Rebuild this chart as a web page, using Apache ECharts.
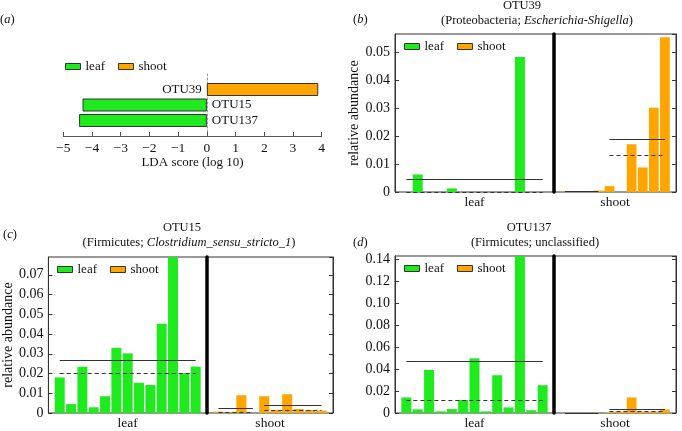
<!DOCTYPE html>
<html lang="en">
<head>
<meta charset="UTF-8">
<title>OTU LDA</title>
<script src="https://cdn.jsdelivr.net/npm/echarts@6/dist/echarts.min.js"></script>
<style>
    html, body { margin: 0; padding: 0; background: #fff; }
    #main { width: 682px; height: 431px; }
</style>
</head>
<body>
<div id="main"></div>
<script type="text/javascript">
    // (a) LDA scores
    var ldaNames = ['OTU137', 'OTU15', 'OTU39'];
    var ldaScores = [-4.45, -4.33, 3.88];
    var ldaGroups = ['leaf', 'leaf', 'shoot'];

    // samples
    var leafSamples = ['L1', 'L2', 'L3', 'L4', 'L5', 'L6', 'L7', 'L8', 'L9', 'L10', 'L11', 'L12', 'L13'];
    var shootSamples = ['S1', 'S2', 'S3', 'S4', 'S5', 'S6', 'S7', 'S8', 'S9', 'S10'];
    // shoot samples fall in two sub-groups: S1-S4 and S5-S10
    var shootGroups = [[0, 3], [4, 9]];

    // (b) OTU39
    var otu39Leaf = [0, 0.0063, 0, 0, 0.0013, 0, 0, 0, 0, 0, 0.0484, 0, 0];
    var otu39Shoot = [0.0001, 0.0001, 0.0001, 0.0005, 0.0021, 0, 0.0171, 0.0088, 0.0302, 0.0554];
    var otu39LeafMean = 0.0044, otu39LeafMedian = 0;
    var otu39ShootMean = [0.0003, 0.019], otu39ShootMedian = [0.0001, 0.013];

    // (c) OTU15
    var otu15Leaf = [0.018, 0.0045, 0.0234, 0.0029, 0.0085, 0.033, 0.0302, 0.0153, 0.0142, 0.0452, 0.107, 0.0202, 0.0235];
    var otu15Shoot = [0.0007, 0.0003, 0.009, 0, 0.0085, 0.0015, 0.0095, 0.002, 0.0015, 0.0012];
    var otu15LeafMean = 0.0266, otu15LeafMedian = 0.0201;
    var otu15ShootMean = [0.0025, 0.004], otu15ShootMedian = [0.0005, 0.0015];

    // (d) OTU137
    var otu137Leaf = [0.0142, 0.0033, 0.0392, 0.0015, 0.0036, 0.0118, 0.0498, 0.0015, 0.0344, 0.0051, 0.43, 0.0025, 0.0253];
    var otu137Shoot = [0, 0, 0, 0, 0.0008, 0.0012, 0.0142, 0.0012, 0.0013, 0.0032];
    var otu137LeafMean = 0.0475, otu137LeafMedian = 0.0115;
    var otu137ShootMean = [0, 0.0038], otu137ShootMedian = [0, 0.0012];

    var FONT = '"Liberation Serif", "DejaVu Serif", serif';
    var leafColor = '#1eea1e';
    var shootColor = '#ffa500';
    var ink = '#111';

    var option = {
        animation: false,
        backgroundColor: '#fff',
        textStyle: { fontFamily: FONT, color: ink },
        grid: [], xAxis: [], yAxis: [], series: [], legend: [], graphic: []
    };

    function pad(arr) { return [''].concat(arr, ['']); }
    function padv(arr) { return [null].concat(arr, [null]); }

    function addLegend(left, top) {
        option.legend.push({
            left: left, top: top, padding: 0,
            icon: 'rect', itemWidth: 15, itemHeight: 6, itemGap: 13,
            selectedMode: false,
            itemStyle: { borderColor: '#333', borderWidth: 1 },
            textStyle: { fontFamily: FONT, fontSize: 13, color: ink },
            data: ['leaf', 'shoot']
        });
    }

    function addText(x, y, text, align) {
        option.graphic.push({
            type: 'text', x: x, y: y, silent: true,
            style: {
                text: text, fontFamily: FONT, fontSize: 12.5, fill: ink,
                align: align, textAlign: align, verticalAlign: 'middle', textVerticalAlign: 'middle',
                rich: { i: { fontStyle: 'italic', fontFamily: FONT, fontSize: 12.5, fill: ink } }
            }
        });
    }

    // solid = mean, dashed = median, drawn from first to last sample of a group
    function meanLines(cats, groups, means, medians) {
        var data = [];
        groups.forEach(function (g, k) {
            data.push([{ coord: [cats[g[0]], means[k]], lineStyle: { type: 'solid' } },
                       { coord: [cats[g[1]], means[k]] }]);
            data.push([{ coord: [cats[g[0]], medians[k]], lineStyle: { type: [4, 3] } },
                       { coord: [cats[g[1]], medians[k]] }]);
        });
        return {
            symbol: 'none', silent: true, animation: false,
            label: { show: false },
            lineStyle: { color: '#333', width: 1 },
            emphasis: { disabled: true },
            data: data
        };
    }

    function tickFmt(v) { return v === 0 ? '0' : v.toFixed(2); }

    // ---- panel (a) ----
    (function () {
        var gi = option.grid.length;
        option.grid.push({ left: 63.3, top: 74, width: 258.4, height: 62 });
        var xi = option.xAxis.length;
        option.xAxis.push({
            gridIndex: gi, type: 'value', min: -5, max: 4, interval: 1,
            name: 'LDA score (log 10)', nameLocation: 'middle', nameGap: 20,
            nameTextStyle: { fontFamily: FONT, fontSize: 13, color: ink },
            axisLine: { show: true, onZero: false, lineStyle: { color: '#555', width: 1 } },
            axisTick: { show: true, inside: true, length: 4, lineStyle: { color: '#555' } },
            axisLabel: {
                margin: 5, fontFamily: FONT, fontSize: 13.5, color: ink,
                formatter: function (v) { return String(v).replace('-', '\u2212'); }
            },
            splitLine: { show: false }
        });
        var yi = option.yAxis.length;
        option.yAxis.push({
            gridIndex: gi, type: 'category', boundaryGap: false, data: pad(ldaNames),
            axisLine: { show: true, onZero: true, lineStyle: { color: '#999', type: [2, 2], width: 1 } },
            axisTick: { show: false }, axisLabel: { show: false }, splitLine: { show: false }
        });
        var leafVals = ldaScores.map(function (v, i) { return ldaGroups[i] === 'leaf' ? v : null; });
        var shootVals = ldaScores.map(function (v, i) { return ldaGroups[i] === 'shoot' ? v : null; });
        var lbl = { show: true, formatter: '{b}', distance: 5, fontFamily: FONT, fontSize: 13, color: ink };
        option.series.push({
            type: 'bar', name: 'leaf', xAxisIndex: xi, yAxisIndex: yi, barWidth: 13, barGap: '-100%',
            data: padv(leafVals),
            itemStyle: { color: leafColor, borderColor: '#333', borderWidth: 1 },
            label: Object.assign({ position: 'right' }, lbl)
        });
        option.series.push({
            type: 'bar', name: 'shoot', xAxisIndex: xi, yAxisIndex: yi, barWidth: 13, barGap: '-100%',
            data: padv(shootVals),
            itemStyle: { color: shootColor, borderColor: '#333', borderWidth: 1 },
            label: Object.assign({ position: 'left' }, lbl)
        });
        addLegend(65, 60);
        addText(0, 20, '({i|a})', 'left');
    })();

    // ---- abundance panels (b), (c), (d) ----
    function addAbundance(p) {
        var gi = option.grid.length;
        var gridStyle = { show: true, borderColor: '#333', borderWidth: 1, backgroundColor: 'transparent' };
        option.grid.push(Object.assign({ left: p.left, top: p.top, width: p.leafWidth, height: p.height }, gridStyle));
        option.grid.push(Object.assign({ left: p.left + p.leafWidth, top: p.top, width: p.shootWidth, height: p.height }, gridStyle));

        var leafCats = pad(leafSamples), shootCats = pad(shootSamples);
        var xCommon = {
            type: 'category', boundaryGap: false, nameLocation: 'middle', nameGap: 3,
            nameTextStyle: { fontFamily: FONT, fontSize: 13.5, color: ink, verticalAlign: 'top' },
            axisLine: { show: false }, axisTick: { show: false }, axisLabel: { show: false }, splitLine: { show: false }
        };
        var xi = option.xAxis.length;
        option.xAxis.push(Object.assign({ gridIndex: gi, name: 'leaf', data: leafCats }, xCommon));
        option.xAxis.push(Object.assign({ gridIndex: gi + 1, name: 'shoot', data: shootCats }, xCommon));

        var yScale = { type: 'value', min: 0, max: p.max, interval: p.interval, splitLine: { show: false } };
        var yi = option.yAxis.length;
        option.yAxis.push(Object.assign({
            gridIndex: gi, position: 'left',
            name: p.yName, nameLocation: 'middle', nameGap: 29,
            nameTextStyle: { fontFamily: FONT, fontSize: 14, color: ink },
            axisLine: { show: true, lineStyle: { color: '#333', width: 1 } },
            axisTick: { show: true, inside: true, length: 4, lineStyle: { color: '#333' } },
            axisLabel: { margin: 5, fontFamily: FONT, fontSize: 14, color: ink, showMaxLabel: false, formatter: tickFmt }
        }, yScale));
        // thick divider between leaf and shoot
        option.yAxis.push(Object.assign({
            gridIndex: gi + 1, position: 'left',
            axisLine: { show: true, lineStyle: { color: '#000', width: 3.5 } },
            axisTick: { show: false }, axisLabel: { show: false }
        }, yScale));
        option.yAxis.push(Object.assign({
            gridIndex: gi + 1, position: 'right',
            axisLine: { show: true, lineStyle: { color: '#333', width: 1 } },
            axisTick: { show: true, inside: true, length: 4, lineStyle: { color: '#333' } },
            axisLabel: { show: false }
        }, yScale));

        option.series.push({
            type: 'bar', name: 'leaf', xAxisIndex: xi, yAxisIndex: yi, barWidth: '88%',
            data: padv(p.leaf), itemStyle: { color: leafColor }, clip: true,
            markLine: meanLines(leafSamples, [[0, leafSamples.length - 1]], [p.leafMean], [p.leafMedian])
        });
        option.series.push({
            type: 'bar', name: 'shoot', xAxisIndex: xi + 1, yAxisIndex: yi + 1, barWidth: '88%',
            data: padv(p.shoot), itemStyle: { color: shootColor }, clip: true,
            markLine: meanLines(shootSamples, shootGroups, p.shootMean, p.shootMedian)
        });

        addLegend(p.left + 9, p.top + 6);
        addText(p.tagX, p.tagY, p.tag, 'left');
        addText(p.titleX, p.titleY, p.title, 'center');
        addText(p.subX, p.subY, p.sub, 'center');
    }

    addAbundance({
        left: 395, top: 34, leafWidth: 159, shootWidth: 122, height: 158,
        max: 0.0566, interval: 0.01, yName: 'relative abundance',
        leaf: otu39Leaf, shoot: otu39Shoot,
        leafMean: otu39LeafMean, leafMedian: otu39LeafMedian,
        shootMean: otu39ShootMean, shootMedian: otu39ShootMedian,
        tag: '({i|b})', tagX: 353, tagY: 20,
        title: 'OTU39', titleX: 522, titleY: 6,
        sub: '(Proteobacteria; {i|Escherichia-Shigella})', subX: 537, subY: 21
    });

    addAbundance({
        left: 48, top: 257, leafWidth: 159, shootWidth: 126, height: 158,
        max: 0.079, interval: 0.01, yName: 'relative abundance',
        leaf: otu15Leaf, shoot: otu15Shoot,
        leafMean: otu15LeafMean, leafMedian: otu15LeafMedian,
        shootMean: otu15ShootMean, shootMedian: otu15ShootMedian,
        tag: '({i|c})', tagX: 3, tagY: 235,
        title: 'OTU15', titleX: 182, titleY: 228,
        sub: '(Firmicutes; {i|Clostridium_sensu_stricto_1})', subX: 189, subY: 243
    });

    addAbundance({
        left: 395, top: 256, leafWidth: 159, shootWidth: 122, height: 158,
        max: 0.143, interval: 0.02, yName: '',
        leaf: otu137Leaf, shoot: otu137Shoot,
        leafMean: otu137LeafMean, leafMedian: otu137LeafMedian,
        shootMean: otu137ShootMean, shootMedian: otu137ShootMedian,
        tag: '({i|d})', tagX: 353, tagY: 243,
        title: 'OTU137', titleX: 529, titleY: 228,
        sub: '(Firmicutes; unclassified)', subX: 535, subY: 243
    });

    var chart = echarts.init(document.getElementById('main'));
    chart.setOption(option);
</script>
</body>
</html>
